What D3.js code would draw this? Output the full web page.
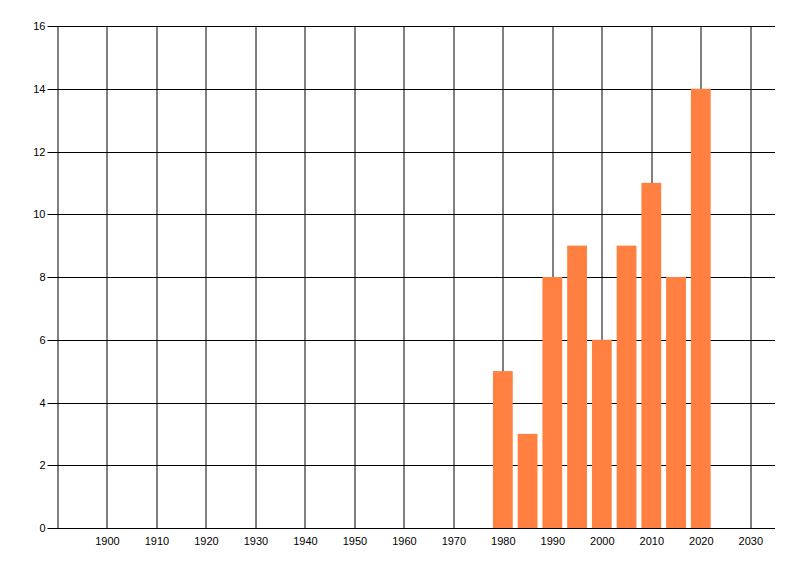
<!DOCTYPE html>
<html>
<head>
<meta charset="utf-8">
<script src="https://cdn.jsdelivr.net/npm/d3@7"></script>
<style>
  body { margin: 0; background: #fff; }
  .axis text { font-family: "Liberation Sans", Arial, sans-serif; font-size: 11px; fill: #000; }
</style>
</head>
<body>
<script>
// bar chart: counts per five years
var years = [1980, 1985, 1990, 1995, 2000, 2005, 2010, 2015, 2020];
var counts = [5, 3, 8, 9, 6, 9, 11, 8, 14];
var xTicks = [1900, 1910, 1920, 1930, 1940, 1950, 1960, 1970, 1980, 1990, 2000, 2010, 2020, 2030];
var yTicks = [0, 2, 4, 6, 8, 10, 12, 14, 16];

var margin = {top: 26, right: 25, bottom: 48, left: 57.5},
    width = 800 - margin.left - margin.right,
    height = 576 - margin.top - margin.bottom;

var svg = d3.select("body")
  .append("svg")
  .attr("width", 800)
  .attr("height", 576)
  .append("g")
  .attr("transform", "translate(" + margin.left + "," + margin.top + ")");

// scales
var xscale = d3.scaleLinear()
  .domain([1890, 2035])
  .range([0, width]);

var yscale = d3.scaleLinear()
  .domain([0, 16])
  .range([height, 0]);

// vertical grid lines
svg.append("g")
  .selectAll("line")
  .data(xTicks)
  .enter()
  .append("line")
  .attr("x1", function(d) { return Math.round(xscale(d)) + 0.5; })
  .attr("x2", function(d) { return Math.round(xscale(d)) + 0.5; })
  .attr("y1", 0)
  .attr("y2", height)
  .attr("stroke", "#000");

// horizontal grid lines with ticks sticking out left
svg.append("g")
  .selectAll("line")
  .data(yTicks)
  .enter()
  .append("line")
  .attr("x1", -10)
  .attr("x2", width)
  .attr("y1", function(d) { return Math.round(yscale(d)) + 0.5; })
  .attr("y2", function(d) { return Math.round(yscale(d)) + 0.5; })
  .attr("stroke", "#000");

// left axis line
svg.append("line")
  .attr("x1", 0.5).attr("x2", 0.5)
  .attr("y1", 0).attr("y2", height)
  .attr("stroke", "#000");

// bars
svg.selectAll("rect.bar")
  .data(years)
  .enter()
  .append("rect")
  .attr("class", "bar")
  .attr("x", function(d) { return xscale(d - 2); })
  .attr("width", function(d) { return xscale(d + 2) - xscale(d - 2); })
  .attr("y", function(d, i) { return yscale(counts[i]); })
  .attr("height", function(d, i) { return height - yscale(counts[i]); })
  .attr("fill", "#ff8040");

// bottom axis line on top of bars
svg.append("line")
  .attr("x1", 0).attr("x2", width)
  .attr("y1", Math.round(height) + 0.5).attr("y2", Math.round(height) + 0.5)
  .attr("stroke", "#000");

// x labels
var xAxis = d3.axisBottom(xscale)
  .tickValues(xTicks)
  .tickFormat(d3.format("d"))
  .tickSize(0)
  .tickPadding(9);

svg.append("g")
  .attr("class", "axis")
  .attr("transform", "translate(0," + height + ")")
  .call(xAxis)
  .call(function(g) { g.select(".domain").remove(); });

// y labels
var yAxis = d3.axisLeft(yscale)
  .tickValues(yTicks)
  .tickSize(0)
  .tickPadding(12);

svg.append("g")
  .attr("class", "axis")
  .call(yAxis)
  .call(function(g) { g.select(".domain").remove(); });
</script>
</body>
</html>
